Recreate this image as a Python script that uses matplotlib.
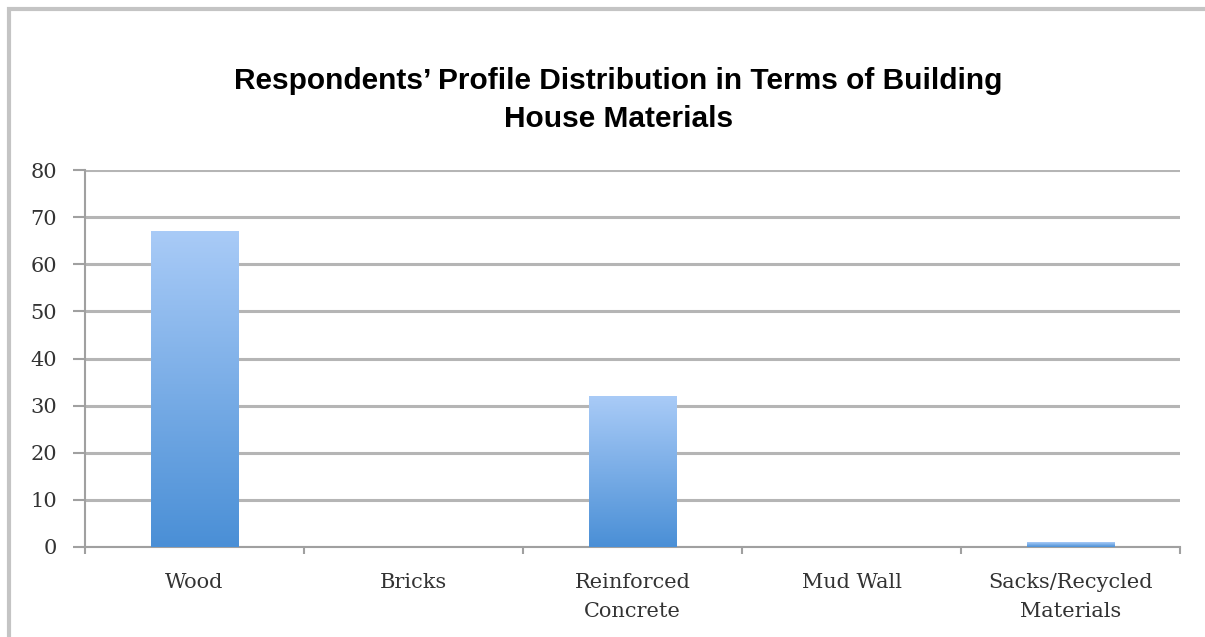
import numpy as np
import matplotlib.pyplot as plt
from matplotlib.patches import Rectangle
from matplotlib.colors import LinearSegmentedColormap

# === Data ===
categories = ['Wood', 'Bricks', 'Reinforced\nConcrete', 'Mud Wall', 'Sacks/Recycled\nMaterials']
values = [67, 0, 32, 0, 1]
y_ticks = [0, 10, 20, 30, 40, 50, 60, 70, 80]

title = "Respondents\u2019 Profile Distribution in Terms of Building\nHouse Materials"

fig = plt.figure(figsize=(12.05, 6.37), dpi=100)
ax = fig.add_axes([85 / 1205, 1 - 547 / 637, 1095 / 1205, 377 / 637])

# outer frame of the chart
fig.patches.append(Rectangle((9 / 1205, -0.05), 1.2, 1 - 9 / 637 + 0.05,
                             transform=fig.transFigure, fill=False,
                             edgecolor='#c4c4c4', linewidth=3))

x = np.arange(len(categories))
bars = ax.bar(x, values, width=0.4, color='none', edgecolor='none', zorder=3)

# vertical gradient fill, light on top, darker at the base
grad = np.linspace(0, 1, 256).reshape(-1, 1)
cmap = LinearSegmentedColormap.from_list('bar', ['#4a8fd6', '#a9cbf7'])
for b in bars:
    h = b.get_height()
    if h <= 0:
        continue
    x0 = b.get_x()
    w = b.get_width()
    im = ax.imshow(grad, cmap=cmap, origin='lower', aspect='auto',
                   extent=[x0, x0 + w, 0, h], zorder=3)
    im.set_clip_path(b)

ax.set_xlim(-0.5, len(categories) - 0.5)
ax.set_ylim(0, 80)
ax.set_yticks(y_ticks)
ax.yaxis.grid(True, color='#b5b5b5', linewidth=2.2)
ax.set_axisbelow(True)

for s in ['top', 'right']:
    ax.spines[s].set_visible(False)
ax.spines['left'].set_color('#a0a0a0')
ax.spines['bottom'].set_color('#a0a0a0')
ax.spines['left'].set_linewidth(1.5)
ax.spines['bottom'].set_linewidth(1.5)

ax.set_xticks(x)
ax.set_xticklabels(categories, fontfamily='DejaVu Serif', fontsize=15,
                   color='#333333', linespacing=1.65)
ax.set_xticks(np.arange(-0.5, len(categories)), minor=True)
ax.tick_params(axis='x', which='major', length=0, pad=19)
ax.tick_params(axis='x', which='minor', length=5, color='#a0a0a0', width=1.5)
ax.tick_params(axis='y', length=9, color='#a0a0a0', width=1.5, pad=11,
               labelsize=15, labelcolor='#333333')
for lab in ax.get_yticklabels():
    lab.set_fontfamily('DejaVu Serif')

fig.text(0.513, 0.843, title, ha='center', va='center', fontsize=21.5,
         fontweight='bold', fontfamily='Liberation Sans', linespacing=1.45)

fig.savefig('out.png', dpi=100)
